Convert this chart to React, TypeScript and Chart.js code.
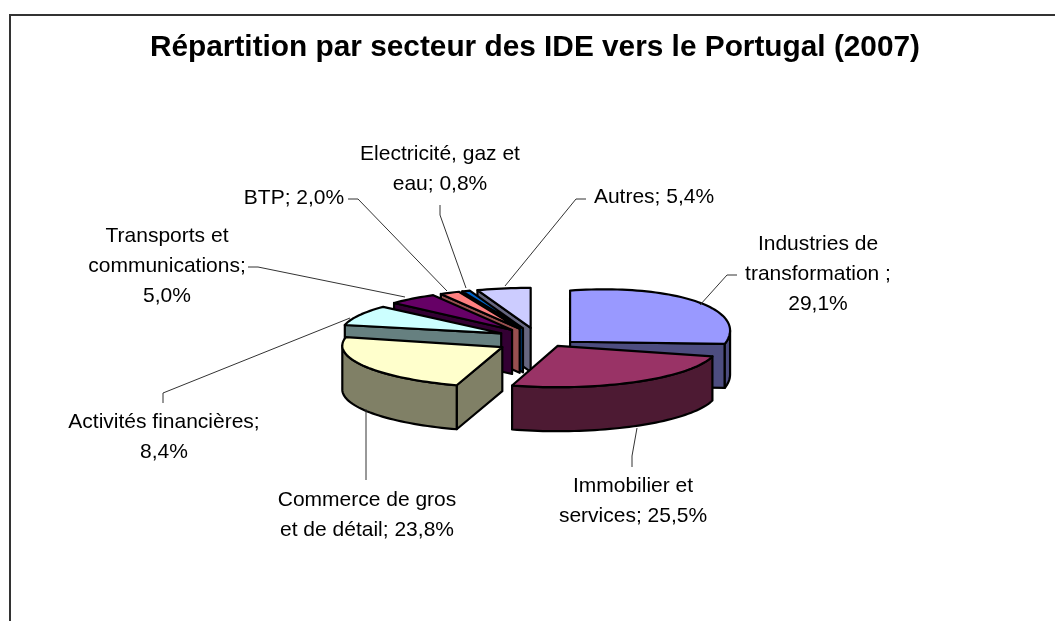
import React, { useEffect, useRef } from "react";
import { Chart, registerables } from "chart.js";

Chart.register(...registerables);

const TITLE = "Répartition par secteur des IDE vers le Portugal (2007)";
const categories = [
  "Industries de transformation",
  "Immobilier et services",
  "Commerce de gros et de détail",
  "Activités financières",
  "Transports et communications",
  "BTP",
  "Electricité, gaz et eau",
  "Autres",
];
const values = [29.1, 25.5, 23.8, 8.4, 5.0, 2.0, 0.8, 5.4];
const topColors = ["#9999FF", "#993366", "#FFFFCC", "#CCFFFF", "#660066", "#FF8080", "#0066CC", "#CCCCFF"];
const wallColors = ["#4D4D80", "#4D1A33", "#808066", "#668080", "#330033", "#995050", "#003366", "#666680"];
const labelTemplates = [
  ["Industries de", "transformation ;", "{v}"],
  ["Immobilier et", "services; {v}"],
  ["Commerce de gros", "et de détail; {v}"],
  ["Activités financières;", "{v}"],
  ["Transports et", "communications;", "{v}"],
  ["BTP; {v}"],
  ["Electricité, gaz et", "eau; {v}"],
  ["Autres; {v}"],
];

// presentation of the tilted, exploded pie
const PIE = { cx: 537.6, cy: 338, radius: 160, depth: 44, explode: 41, tilt: 0.25 };
const sliceSquash = [0.32, 0.258, 0.251, 0.245, 0.25, 0.25, 0.25, 0.25];
const sliceShear = [-0.07, 0, 0.01, 0, 0, 0, 0, 0];
const sliceDrop = [10, -1, 4, 0, 0, 0, 0, 0];
const paintOrder = [7, 6, 5, 4, 3, 0, 2, 1];
const labelBoxes = [
  { x: 818, y: 244 },
  { x: 633, y: 486 },
  { x: 367, y: 500 },
  { x: 164, y: 422 },
  { x: 167, y: 236 },
  { x: 294, y: 198 },
  { x: 440, y: 154 },
  { x: 654, y: 197 },
];
const leaders = [
  [[737, 275], [727, 275], [700, 305]],
  [[632, 467], [632, 456], [637, 428]],
  [[366, 480], [366, 409]],
  [[163, 403], [163, 393], [350, 318]],
  [[248, 267], [258, 267], [405, 297]],
  [[348, 199], [358, 199], [447, 291]],
  [[440, 205], [440, 215], [466, 288]],
  [[586, 199], [576, 199], [505, 286]],
];

const pct = (v: number) => v.toFixed(1).replace(".", ",") + "%";

const pie3d = {
  id: "pie3d",
  beforeDraw(chart: any) {
    const { ctx } = chart;
    ctx.save();
    ctx.fillStyle = "#fff";
    ctx.fillRect(0, 0, chart.width, chart.height);
    ctx.strokeStyle = "#333";
    ctx.lineWidth = 2;
    ctx.beginPath();
    ctx.moveTo(10, chart.height);
    ctx.lineTo(10, 15);
    ctx.lineTo(chart.width, 15);
    ctx.stroke();
    ctx.restore();
  },
  beforeDatasetDraw(chart: any) {
    const { ctx } = chart;
    const arcs = chart.getDatasetMeta(0).data;
    paintOrder.forEach((i) => {
      const arc = arcs[i];
      const { x, y, startAngle: a0, endAngle: a1, outerRadius: r } = arc.getProps(
        ["x", "y", "startAngle", "endAngle", "outerRadius"],
        true
      );
      const mid = (a0 + a1) / 2;
      const ax = PIE.cx + Math.cos(mid) * PIE.explode;
      const ay = PIE.cy + Math.sin(mid) * PIE.explode * PIE.tilt + sliceDrop[i];
      const k = sliceSquash[i];
      const s = sliceShear[i];
      const pt = (t: number, dy = 0) => [
        ax + r * Math.cos(t),
        ay + r * Math.sin(t) * k + r * Math.cos(t) * s + dy,
      ];
      const trace = (pts: number[][], close = true) => {
        ctx.beginPath();
        pts.forEach((p, n) => (n ? ctx.lineTo(p[0], p[1]) : ctx.moveTo(p[0], p[1])));
        if (close) ctx.closePath();
      };
      const shape = (pts: number[][], fill: string) => {
        trace(pts);
        ctx.fillStyle = fill;
        ctx.fill();
        ctx.stroke();
      };
      const rim = (from: number, to: number, dy = 0) => {
        const n = Math.max(2, Math.ceil(Math.abs(to - from) * 30));
        return Array.from({ length: n + 1 }, (_, j) => pt(from + ((to - from) * j) / n, dy));
      };
      ctx.save();
      ctx.strokeStyle = "#000";
      ctx.lineWidth = 2.2;
      ctx.lineJoin = "round";
      const wall = wallColors[i];
      const d = PIE.depth;
      const apex = [ax, ay];
      const apexLow = [ax, ay + d];
      // only the cut faces turned towards the viewer are painted
      if (Math.cos(a0) < -1e-6) shape([apex, pt(a0), pt(a0, d), apexLow], wall);
      if (Math.cos(a1) > 1e-6) shape([apex, pt(a1), pt(a1, d), apexLow], wall);
      const lo = Math.max(a0, 0);
      const hi = Math.min(a1, Math.PI);
      if (hi > lo) shape([...rim(lo, hi), ...rim(hi, lo, d)], wall);
      ctx.save();
      ctx.translate(ax, ay);
      ctx.transform(1, s, 0, k, 0, 0);
      ctx.translate(-x, -y);
      arc.draw(ctx);
      ctx.restore();
      trace([apex, ...rim(a0, a1)]);
      ctx.stroke();
      ctx.restore();
    });
    return false;
  },
  afterDraw(chart: any) {
    const { ctx } = chart;
    ctx.save();
    ctx.strokeStyle = "#333";
    ctx.lineWidth = 1;
    leaders.forEach((pts) => {
      ctx.beginPath();
      pts.forEach((p, n) => (n ? ctx.lineTo(p[0], p[1]) : ctx.moveTo(p[0], p[1])));
      ctx.stroke();
    });
    ctx.fillStyle = "#000";
    ctx.font = '21px "Liberation Sans"';
    ctx.textAlign = "center";
    ctx.textBaseline = "middle";
    labelTemplates.forEach((lines, i) => {
      lines.forEach((line, n) => {
        ctx.fillText(line.replace("{v}", pct(values[i])), labelBoxes[i].x, labelBoxes[i].y + n * 30);
      });
    });
    ctx.restore();
  },
};

export default function App() {
  const ref = useRef<HTMLCanvasElement>(null);
  useEffect(() => {
    document.body.style.margin = "0";
    const chart = new Chart(ref.current!, {
      type: "pie",
      data: {
        labels: categories,
        datasets: [{ data: values, backgroundColor: topColors, borderWidth: 0 }],
      },
      options: {
        responsive: false,
        animation: false,
        radius: PIE.radius,
        layout: { padding: { left: 15, top: 0, right: 0, bottom: 0 } },
        plugins: {
          legend: { display: false },
          tooltip: { enabled: false },
          title: {
            display: true,
            text: TITLE,
            color: "#000",
            font: { family: '"Liberation Sans"', size: 29.8, weight: "bold" },
            padding: { top: 30, bottom: 10 },
          },
        },
      } as any,
      plugins: [pie3d],
    });
    return () => chart.destroy();
  }, []);
  return <canvas ref={ref} width={1055} height={621} style={{ display: "block" }} />;
}
